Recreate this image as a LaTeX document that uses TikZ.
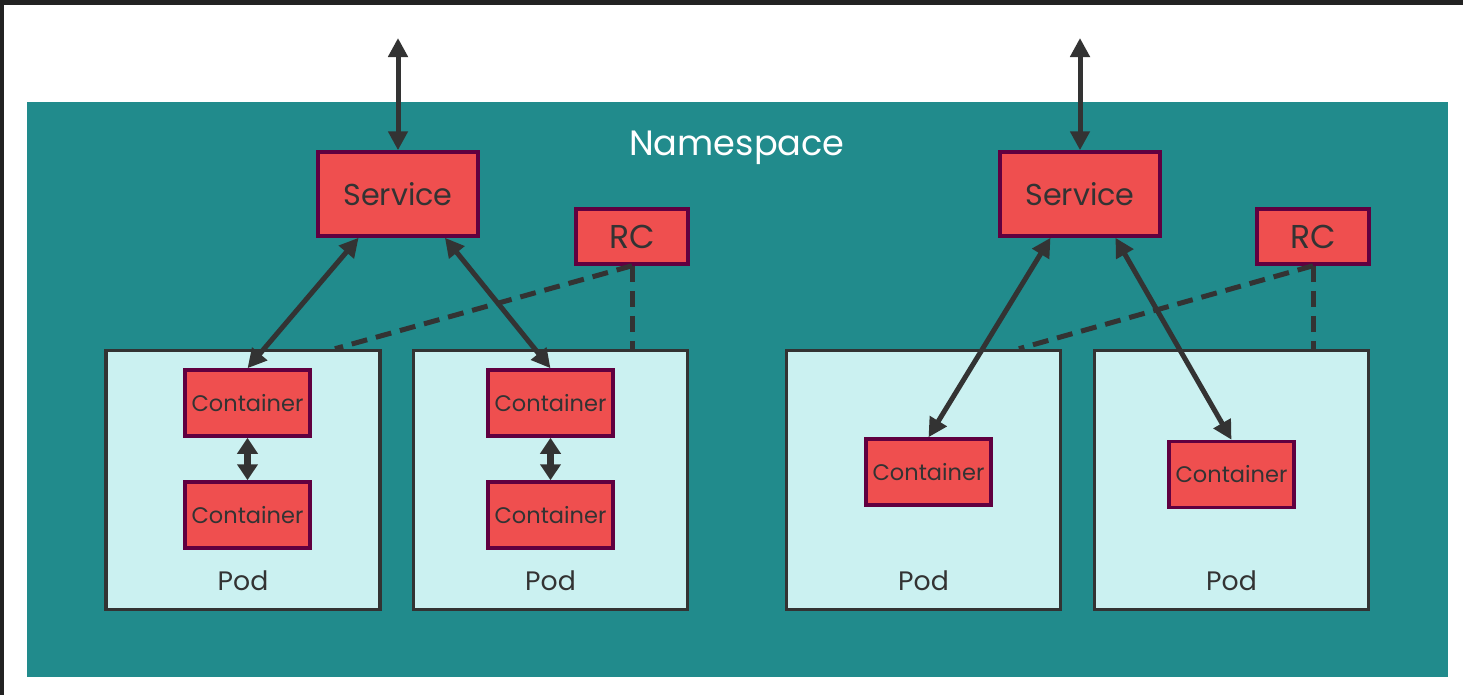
\documentclass[tikz,border=0pt]{standalone}
\usepackage{fontspec}
\setmainfont{Poppins}
\usepackage{tikz}
\usetikzlibrary{positioning}
\usetikzlibrary{arrows.meta}
\definecolor{sarcelle}{RGB}{33,139,140}
\definecolor{rougek}{RGB}{239,79,79}
\definecolor{pourpre}{RGB}{96,0,64}
\definecolor{cyanpale}{RGB}{203,241,241}
\definecolor{gristrait}{RGB}{51,51,51}
\definecolor{cadre}{RGB}{34,34,34}

\begin{document}
\begin{tikzpicture}[>={Triangle[length=0.19cm,width=0.19cm]}]
% définition des paramètres
\tikzstyle cadrekube=[fill=cadre]
\tikzstyle espacekube=[fill=sarcelle]
\tikzstyle podkube=[draw=gristrait,fill=cyanpale,line width=0.035cm,minimum width=2.74cm,minimum height=2.59cm,inner sep=0pt]
\tikzstyle boitekube=[draw=pourpre,fill=rougek,line width=0.035cm,text=gristrait,inner sep=0pt]
\tikzstyle servicekube=[boitekube,minimum width=1.6cm,minimum height=0.84cm,font=\fontsize{8.6}{9}\selectfont]
\tikzstyle rckube=[boitekube,minimum width=1.12cm,minimum height=0.55cm,font=\fontsize{9.4}{10}\selectfont]
\tikzstyle conteneurkube=[boitekube,minimum width=1.25cm,minimum height=0.66cm,font=\fontsize{6.4}{7}\selectfont]
\tikzstyle textekube=[text=gristrait,font=\fontsize{7.6}{8}\selectfont]
\tikzstyle flechekube=[draw=gristrait,line width=0.05cm,<->]
\tikzstyle petiteflechekube=[draw=gristrait,line width=0.065cm,{Triangle[length=0.16cm,width=0.2cm]}-{Triangle[length=0.16cm,width=0.2cm]}]
\tikzstyle tiretkube=[draw=gristrait,line width=0.05cm,dash pattern=on 0.16cm off 0.09cm]
\newcommand{\ypod}{-4.80}   % ordonnée des pods
\newcommand{\yhaut}{-4.03}  % premier conteneur
\newcommand{\ybas}{-5.15}   % second conteneur
\useasboundingbox (0,0) rectangle (14.63,-6.95);
% le cadre
\fill[cadrekube] (0,0) rectangle (14.63,-0.05);
\fill[cadrekube] (0,0) rectangle (0.04,-6.95);
% le namespace
\fill[espacekube] (0.27,-1.02) rectangle (14.48,-6.77);
\node[text=white,font=\fontsize{10}{10}\selectfont] (ns) at (7.37,-1.48) {Namespace};
% les pods
\foreach \i/\x in {1/2.43,2/5.505,3/9.235,4/12.315}
{
    \node[podkube] (pod\i) at (\x,\ypod) {};
    \node[textekube] (lpod\i) at (\x,-5.81) {Pod};
}
% les services et les RC
\node[servicekube] (srv1) at (3.98,-1.94) {Service};
\node[servicekube] (srv2) at (10.80,-1.94) {Service};
\node[rckube] (rc1) at (6.32,-2.365) {RC};
\node[rckube] (rc2) at (13.13,-2.365) {RC};
\coordinate (haut1) at (3.98,-0.38);
\coordinate (haut2) at (10.80,-0.38);
% les conteneurs
\node[conteneurkube] (ctn1h) at (2.475,\yhaut) {Container};
\node[conteneurkube] (ctn1b) at (2.475,\ybas) {Container};
\node[conteneurkube] (ctn2h) at (5.505,\yhaut) {Container};
\node[conteneurkube] (ctn2b) at (5.505,\ybas) {Container};
\node[conteneurkube] (ctn3) at (9.285,-4.72) {Container};
\node[conteneurkube] (ctn4) at (12.315,-4.745) {Container};
% les flèches
\draw[flechekube] (haut1) -- (srv1.north);
\draw[flechekube] (haut2) -- (srv2.north);
\draw[flechekube] (ctn1h.north) -- (srv1.-132);
\draw[flechekube] (ctn2h.north) -- (srv1.-43);
\draw[flechekube] (ctn3.north) -- (srv2.-124);
\draw[flechekube] (ctn4.north) -- (srv2.-51);
\draw[petiteflechekube] (ctn1h) -- (ctn1b);
\draw[petiteflechekube] (ctn2h) -- (ctn2b);
% les pointillés
\draw[tiretkube] (rc1.south) -- (pod1.55);
\draw[tiretkube] (rc1.south) -- (rc1.south |- pod2.north);
\draw[tiretkube] (rc2.south) -- (pod3.54);
\draw[tiretkube] (rc2.south) -- (rc2.south |- pod4.north);
\end{tikzpicture}
\end{document}
